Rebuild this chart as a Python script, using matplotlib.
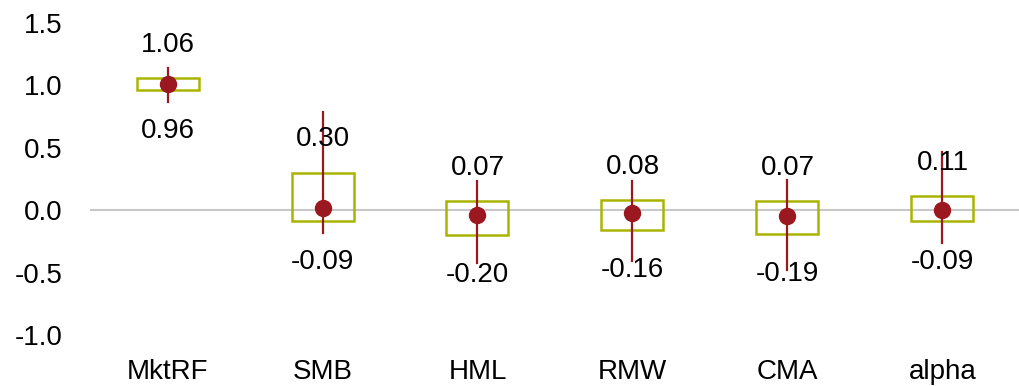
import matplotlib.pyplot as plt
from matplotlib.patches import Rectangle

plt.rcParams['font.family'] = ['Liberation Sans', 'DejaVu Sans']

# coefficients (point), ranges (box) and confidence whiskers
factors = ['MktRF', 'SMB', 'HML', 'RMW', 'CMA', 'alpha']
estimate = [1.01, 0.02, -0.04, -0.02, -0.05, 0.00]
box_low = [0.96, -0.09, -0.20, -0.16, -0.19, -0.09]
box_high = [1.06, 0.30, 0.07, 0.08, 0.07, 0.11]
ci_low = [0.87, -0.18, -0.42, -0.41, -0.48, -0.26]
ci_high = [1.14, 0.79, 0.23, 0.23, 0.24, 0.47]

BOX_COLOR = '#AAB400'
DOT_COLOR = '#9B1820'
FS = 20

fig = plt.figure(figsize=(10.2, 3.86), dpi=100)
ax = fig.add_axes([90 / 1020, 1 - 335 / 386, 930 / 1020, 312 / 386])

ax.axhline(0, color='#C8C8C8', lw=1.5, zorder=0)

for i in range(len(factors)):
    ax.add_patch(Rectangle((i - 0.2, box_low[i]), 0.4, box_high[i] - box_low[i],
                           fill=False, edgecolor=BOX_COLOR, lw=1.8, zorder=2))
    ax.plot([i, i], [ci_low[i], ci_high[i]], color=DOT_COLOR, lw=1.6, zorder=3)
    ax.plot(i, estimate[i], 'o', color=DOT_COLOR, ms=11.5, zorder=4)
    ax.annotate(f'{box_high[i]:.2f}', (i, box_high[i]), xytext=(0, 24),
                textcoords='offset points', ha='center', va='center', fontsize=FS)
    ax.annotate(f'{box_low[i]:.2f}', (i, box_low[i]), xytext=(0, -29),
                textcoords='offset points', ha='center', va='center', fontsize=FS)

ax.set_xlim(-0.5, 5.5)
ax.set_ylim(-1.0, 1.5)
ax.set_xticks(range(len(factors)))
ax.set_xticklabels(factors)
ax.set_yticks([-1.0, -0.5, 0.0, 0.5, 1.0, 1.5])
ax.set_yticklabels(['-1.0', '-0.5', '0.0', '0.5', '1.0', '1.5'])
ax.tick_params(length=0, labelsize=FS)
ax.tick_params(axis='x', pad=17)
ax.tick_params(axis='y', pad=20)
for s in ax.spines.values():
    s.set_visible(False)

fig.savefig('out.png', dpi=100)
